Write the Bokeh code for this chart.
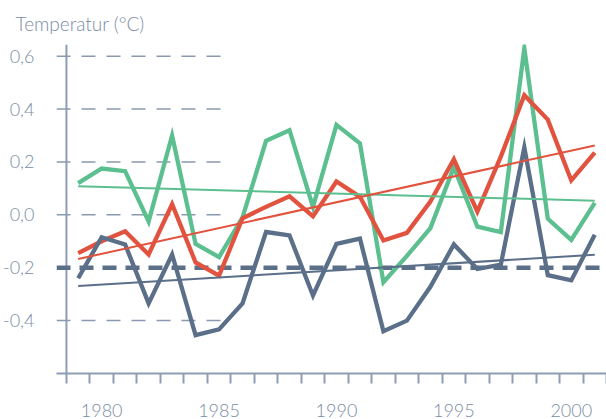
from bokeh.plotting import figure
from bokeh.models import Range1d, FixedTicker, Span
from bokeh.embed import file_html
from bokeh.resources import INLINE

# Annual temperature anomalies (°C), three series, 1979-2001
years = list(range(1979, 2002))
green = [0.12, 0.175, 0.165, -0.025, 0.30, -0.11, -0.16, -0.01, 0.28, 0.32, 0.03, 0.34,
         0.27, -0.255, -0.155, -0.05, 0.18, -0.045, -0.065, 0.63, -0.015, -0.095, 0.045]
red = [-0.145, -0.10, -0.062, -0.15, 0.04, -0.18, -0.23, -0.013, 0.03, 0.07, -0.006, 0.126,
       0.068, -0.097, -0.068, 0.05, 0.21, 0.012, 0.22, 0.452, 0.36, 0.13, 0.235]
slate = [-0.24, -0.085, -0.112, -0.335, -0.15, -0.455, -0.433, -0.335, -0.065, -0.078, -0.305,
         -0.11, -0.09, -0.44, -0.40, -0.272, -0.112, -0.205, -0.188, 0.255, -0.228, -0.248, -0.075]

# Linear trends (start / end values)
trend_years = [1979, 2001]
green_trend = [0.108, 0.053]
red_trend = [-0.167, 0.262]
slate_trend = [-0.269, -0.151]

reference_level = -0.2
grid_levels = [-0.4, 0.0, 0.2, 0.4, 0.6]
y_ticks = [-0.4, -0.2, 0.0, 0.2, 0.4, 0.6]
y_tick_labels = ["-0,4", "-0,2", "0,0", "0,2", "0,4", "0,6"]
x_label_years = [1980, 1985, 1990, 1995, 2000]
title_text = "Temperatur (°C)"

FONT = "Lato Light, Lato"
TEXT_COLOR = "#7a8ca5"
AXIS_COLOR = "#8e9db3"
GRID_COLOR = "#8a99af"
GREEN = "#5cbf8f"
RED = "#e2533f"
SLATE = "#5b6f89"

X0, X1 = 1978.077, 2001.5
p = figure(width=606, height=419, output_backend="svg", toolbar_location=None,
           x_range=Range1d(X0, X1), y_range=Range1d(-0.6, 0.644),
           min_border_left=53, min_border_right=0, min_border_top=43, min_border_bottom=41)
p.outline_line_color = None
p.xgrid.visible = False
p.ygrid.visible = False
p.background_fill_color = "white"
p.border_fill_color = "white"

p.title.text = title_text
p.title.align = "left"
p.title.offset = -41
p.title.standoff = 19
p.title.text_font = FONT
p.title.text_font_size = "19px"
p.title.text_font_style = "normal"
p.title.text_color = TEXT_COLOR

# y axis: labels only, the axis line is drawn at the first half-year position
yax = p.yaxis[0]
yax.ticker = FixedTicker(ticks=y_ticks, minor_ticks=[])
yax.major_label_overrides = {v: s for v, s in zip(y_ticks, y_tick_labels)}
yax.axis_line_color = None
yax.major_tick_line_color = None
yax.minor_tick_line_color = None
yax.major_label_standoff = 16
yax.major_label_text_font = FONT
yax.major_label_text_font_size = "18px"
yax.major_label_text_color = TEXT_COLOR

# x axis: year labels centred on the year, tick marks between years
xax = p.xaxis[0]
xax.ticker = FixedTicker(ticks=x_label_years, minor_ticks=[y - 0.5 for y in years] + [years[-1] + 0.5])
xax.major_tick_in = 0
xax.major_tick_out = 0
xax.major_tick_line_color = None
xax.minor_tick_in = 0
xax.minor_tick_out = 10
xax.minor_tick_line_color = AXIS_COLOR
xax.minor_tick_line_width = 2
xax.axis_line_color = AXIS_COLOR
xax.axis_line_width = 2
xax.major_label_standoff = 20
xax.major_label_text_font = FONT
xax.major_label_text_font_size = "18px"
xax.major_label_text_color = TEXT_COLOR

p.add_layout(Span(location=years[0] - 0.5, dimension="height", line_color=AXIS_COLOR,
                  line_width=2, level="underlay"))

# short dashed guide lines on the left
n = len(grid_levels)
p.segment(x0=[X0] * n, x1=[1985.3] * n, y0=grid_levels, y1=grid_levels,
          line_color=GRID_COLOR, line_width=1.5, line_dash="14 11")

# reference level
p.line(x=[X0, X1], y=[reference_level, reference_level], line_color=SLATE,
       line_width=4.5, line_dash="14 9")

for ys, col in [(green, GREEN), (red, RED), (slate, SLATE)]:
    p.line(x=years, y=ys, line_color=col, line_width=4.3, line_join="miter")

for ys, col in [(green_trend, GREEN), (red_trend, RED), (slate_trend, SLATE)]:
    p.line(x=trend_years, y=ys, line_color=col, line_width=2)

open("out.html", "w").write(file_html(p, INLINE))
